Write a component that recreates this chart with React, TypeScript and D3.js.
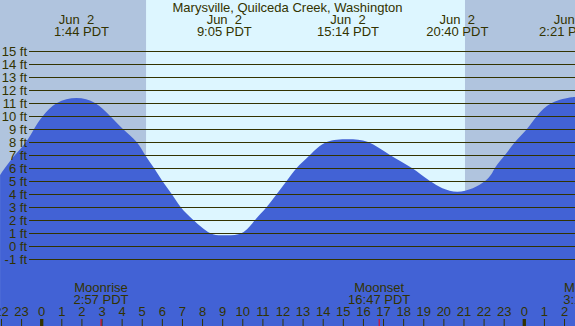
import React from "react";
import * as d3 from "d3";

// Tide curve: hours since midnight Jun 2 (PDT) and height in feet
const tideHours = [-2.07, -1.83, -1.33, -0.78, -0.38, 0.06, 0.76, 1.73, 2.65, 3.4, 4.04, 4.72, 5.14, 5.585, 6.0, 6.465, 6.91, 7.54, 8.37, 9.08, 9.95, 10.61, 11.19, 11.69, 12.18, 12.68, 13.34, 14.17, 15.23, 16.23, 17.32, 18.41, 19.31, 20.67, 22.05, 22.54, 23.04, 23.54, 24.13, 24.63, 25.37, 26.35, 26.55];
const tideFeet = [5.46, 6.0, 7.0, 8.0, 9.0, 10.0, 11.0, 11.38, 11.0, 10.0, 9.0, 8.0, 7.0, 6.0, 5.0, 4.0, 3.0, 2.0, 1.0, 0.82, 1.0, 2.0, 3.0, 4.0, 5.0, 6.0, 7.0, 8.0, 8.22, 8.0, 7.0, 6.0, 5.0, 4.18, 5.0, 6.0, 7.0, 8.0, 9.0, 10.0, 11.0, 11.44, 11.42];

// High / low tide labels
const extremeHours = [1.733, 9.083, 15.233, 20.667, 26.35];
const extremeDates = ["Jun\u00a0\u00a02", "Jun\u00a0\u00a02", "Jun\u00a0\u00a02", "Jun\u00a0\u00a02", "Jun\u00a0\u00a02"];
const extremeTimes = ["1:44 PDT", "9:05 PDT", "15:14 PDT", "20:40 PDT", "2:21 PDT"];

// Sun
const sunriseHour = 5.19;
const sunsetHour = 21.05;

// Moon events
const moonHours = [2.95, 16.783, 27.3];
const moonNames = ["Moonrise", "Moonset", "Moonrise"];
const moonTimes = ["2:57 PDT", "16:47 PDT", "3:18 PDT"];

// Axis
const feetTicks = [-1, 0, 1, 2, 3, 4, 5, 6, 7, 8, 9, 10, 11, 12, 13, 14, 15];
const hourTicks = d3.range(-2, 27);

const title = "Marysville, Quilceda Creek, Washington";

const W = 575;
const H = 326;
const FONT = "'Liberation Sans', Arial, Helvetica, sans-serif";
const TEXT = "#333300";

export default function App() {
  const x = d3.scaleLinear().domain([0, 24]).range([41.7, 524.3]);
  const y = d3.scaleLinear().domain([-1, 15]).range([259, 51]);

  const pts = tideHours.map((h, i) => [h, tideFeet[i]] as [number, number]);
  const area = d3
    .area<[number, number]>()
    .x((d) => x(d[0]))
    .y0(H)
    .y1((d) => y(d[1]))
    .curve(d3.curveNatural);

  const dxExtreme = [5, 0, 0, 0, -5];

  return (
    <svg
      width={W}
      height={H}
      style={{ position: "fixed", left: 0, top: 0, display: "block" }}
      fontFamily={FONT}
      fontSize={13}
    >
      <rect x={0} y={0} width={W} height={H} fill="#b0c4de" />
      <rect
        x={x(sunriseHour)}
        y={0}
        width={x(sunsetHour) - x(sunriseHour)}
        height={H}
        fill="#ddf6ff"
      />
      <path d={area(pts) || ""} fill="#4262d5" />

      {feetTicks.map((v) => (
        <g key={v}>
          <line
            x1={29}
            x2={W}
            y1={Math.round(y(v)) + 0.5}
            y2={Math.round(y(v)) + 0.5}
            stroke={TEXT}
            strokeWidth={1}
          />
          <text x={27} y={y(v) + 5} textAnchor="end" fill={TEXT}>
            {`${v} ft`}
          </text>
        </g>
      ))}

      <text x={W / 2} y={12} textAnchor="middle" fill={TEXT}>
        {title}
      </text>

      {extremeHours.map((h, i) => (
        <g key={i}>
          <text x={x(h)} y={24} textAnchor="middle" fill={TEXT} style={{ whiteSpace: "pre" }}>
            {extremeDates[i]}
          </text>
          <text x={x(h) + dxExtreme[i]} y={36} textAnchor="middle" fill={TEXT}>
            {extremeTimes[i]}
          </text>
        </g>
      ))}

      {hourTicks.map((h) => {
        const lab = ((h % 24) + 24) % 24;
        const mid = lab === 0;
        return (
          <g key={h}>
            <line
              x1={x(h)}
              x2={x(h)}
              y1={319}
              y2={H}
              stroke={TEXT}
              strokeWidth={mid ? 3.3 : 1}
            />
            <text x={x(h)} y={316} textAnchor="middle" fill={TEXT}>
              {String(lab)}
            </text>
          </g>
        );
      })}

      {moonHours.map((h, i) => (
        <g key={i}>
          <line x1={x(h)} x2={x(h)} y1={319} y2={H} stroke="#ff0000" strokeWidth={1} />
          <text x={x(h)} y={292} textAnchor="middle" fill={TEXT}>
            {moonNames[i]}
          </text>
          <text x={x(h)} y={304} textAnchor="middle" fill={TEXT}>
            {moonTimes[i]}
          </text>
        </g>
      ))}
    </svg>
  );
}
